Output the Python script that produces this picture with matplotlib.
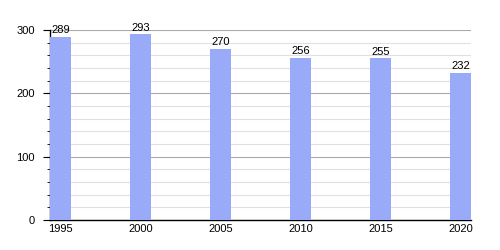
import numpy as np
import matplotlib.pyplot as plt
from matplotlib.ticker import MultipleLocator

years = ['1995', '2000', '2005', '2010', '2015', '2020']
population = [289, 293, 270, 256, 255, 232]

plt.rcParams['font.family'] = ['Liberation Sans', 'DejaVu Sans']

fig = plt.figure(figsize=(5, 2.5), dpi=100)
ax = fig.add_axes([0.1, 0.12, 0.842, 0.76])

x = np.arange(len(years))
w = 0.2625
bars = ax.bar(x, population, width=w, align='edge', color='#99aaf8', zorder=3)
for b, v in zip(bars, population):
    ax.text(b.get_x() + w / 2, v + 3, str(v), ha='center', va='bottom', fontsize=8, zorder=4)

ax.set_xlim(0, len(years) - 1 + w)
ax.set_ylim(0, 300)
ax.set_xticks(x + w / 2)
ax.set_xticklabels(years)
ax.yaxis.set_major_locator(MultipleLocator(100))
ax.yaxis.set_minor_locator(MultipleLocator(20))
ax.grid(True, which='major', axis='y', color='#aaaaaa', lw=0.8, zorder=1)
ax.grid(True, which='minor', axis='y', color='#e0e0e0', lw=0.8, zorder=0)

for s in ['top', 'right']:
    ax.spines[s].set_visible(False)
ax.spines['left'].set_linewidth(1)
ax.spines['bottom'].set_linewidth(1)
ax.tick_params(axis='x', length=0, labelsize=8, pad=3)
ax.tick_params(axis='y', which='major', length=5, labelsize=8, pad=6)
ax.tick_params(axis='y', which='minor', length=2)

plt.savefig('out.png', dpi=100)
